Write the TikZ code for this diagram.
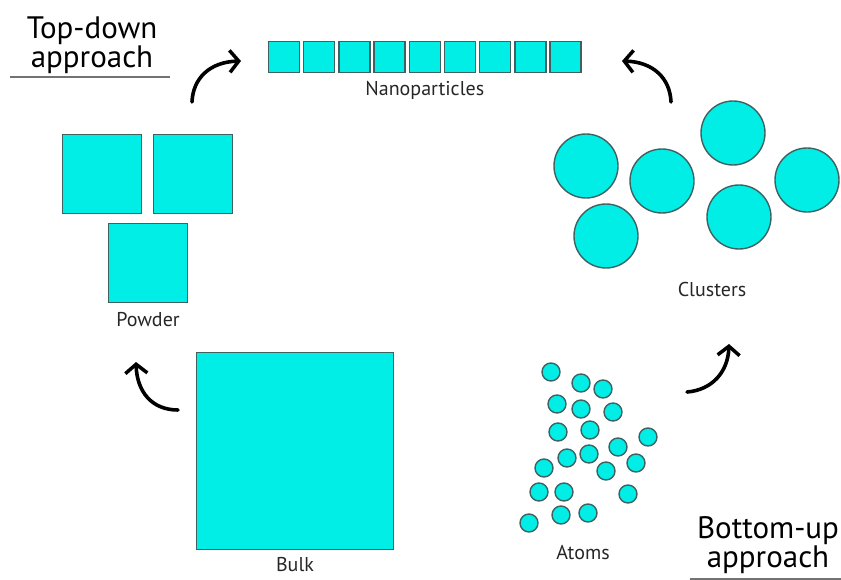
\documentclass[tikz,border=0pt]{standalone}
\usepackage{fontspec}
\setmainfont{PT Sans}
\usetikzlibrary{arrows.meta, positioning}
\definecolor{nanocyan}{RGB}{0,238,230}
\definecolor{nanoedge}{RGB}{62,98,98}
\tikzset{
	grain/.style={rectangle, draw=nanoedge, fill=nanocyan, line width=1.4pt, inner sep=0pt},
	blob/.style={circle, draw=nanoedge, fill=nanocyan, line width=1.4pt, inner sep=0pt},
	caption/.style={font=\fontsize{20}{22}\selectfont, text=black!85, inner sep=0pt},
	heading/.style={font=\fontsize{31}{29}\selectfont, align=center, inner sep=0pt},
	rule/.style={draw=black!55, line width=1.3pt},
	arr/.style={-{Straight Barb[length=9pt, width=22pt, line width=3.5pt]}, line width=3.6pt, line cap=round}
}

\begin{document}
\begin{tikzpicture}[x=1pt, y=-1pt]
        \useasboundingbox (0,0) rectangle (841,580);

        % top-down route
        \node[heading] (topdown) at (92,45) {Top-down\\approach};
        \draw[rule] (10,77) -- (170,77);

        \node[grain, minimum size=197pt] (bulk) at (295,451) {};
        \node[caption, below=7pt of bulk] (bulklab) {Bulk};

        \node[grain, minimum size=79pt] (pw1) at (102,174) {};
        \node[grain, minimum size=79pt] (pw2) at (193,174) {};
        \node[grain, minimum size=79pt] (pw3) at (148,263) {};
        \node[caption, below=9pt of pw3] (pwlab) {Powder};

        \foreach \i in {0,...,8}
            \node[grain, minimum size=31pt] (np\i) at ({284+35.2*\i},57) {};
        \node[caption, below=8pt of np4] (nplab) {Nanoparticles};

        % bottom-up route
        \node[heading] (bottomup) at (768,545) {Bottom-up\\approach};
        \draw[rule] (690,579) -- (841,579);

        \foreach \x/\y [count=\k] in {551/372, 581/383, 603/389, 557/404, 581/409, 613/412,
                558/432, 590/430, 648/437, 618/447, 567/458, 589/454, 636/463, 606/471,
                544/468, 539/492, 564/492, 628/494, 561/515, 588/513, 529/523}
            \node[blob, minimum size=18pt] (at\k) at (\x,\y) {};
        \node[caption] (atlab) at (583,553) {Atoms};

        \foreach \x/\y [count=\k] in {586/166, 662/181, 733/133, 807/180, 606/236, 739/217}
            \node[blob, minimum size=64pt] (cl\k) at (\x,\y) {};
        \node[caption] (cllab) at (712,290) {Clusters};

        % arrows between the stages
        \coordinate (bulk-out) at (178,410);
        \coordinate (pw-in) at (136,362);
        \coordinate (pw-out) at (192,102);
        \coordinate (np-in-l) at (241,61);
        \coordinate (cl-out) at (671,102);
        \coordinate (np-in-r) at (622,61);
        \coordinate (at-out) at (687,392);
        \coordinate (cl-in) at (729,344);

        \draw[arr] (bulk-out) .. controls (152,410) and (137,392) .. (pw-in);
        \draw[arr] (pw-out) .. controls (193,78) and (210,62) .. (np-in-l);
        \draw[arr] (cl-out) .. controls (670,78) and (653,62) .. (np-in-r);
        \draw[arr] (at-out) .. controls (712,390) and (728,372) .. (cl-in);
    \end{tikzpicture}
\end{document}
